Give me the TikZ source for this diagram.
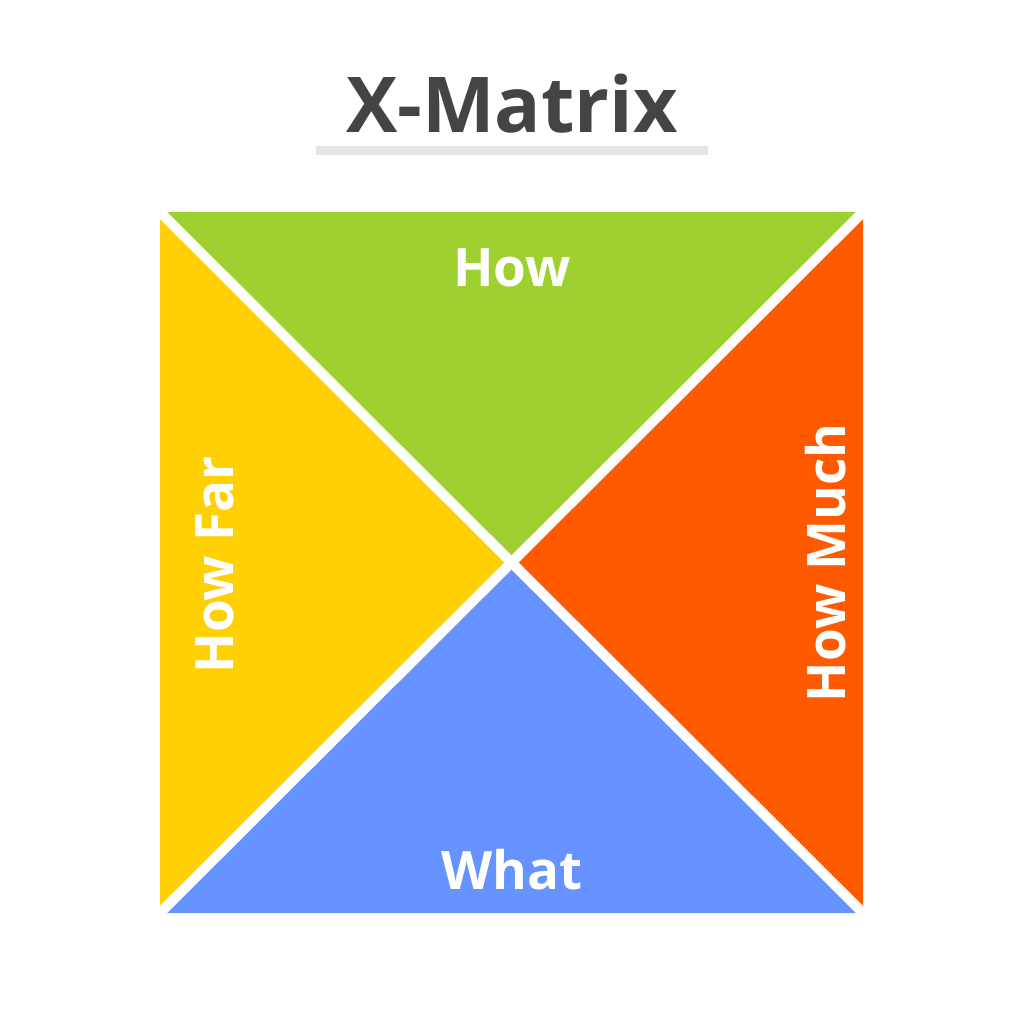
\documentclass[tikz,border=0pt]{standalone}
\usepackage{fontspec}
\setmainfont{Open Sans}
\definecolor{xgreen}{HTML}{9DD030}
\definecolor{xyellow}{HTML}{FFD105}
\definecolor{xorange}{HTML}{FF5A00}
\definecolor{xblue}{HTML}{6693FF}
\definecolor{xtitle}{HTML}{444444}
\definecolor{rulegray}{HTML}{E5E5E5}
\begin{document}
\begin{tikzpicture}[x=1pt,y=-1pt]
    \tikzset{
        lbl/.style      =   { text=white
                            , font=\fontsize{53}{55}\selectfont\bfseries
                            }
        , gap/.style    =   { white
                            , line width=10pt
                            }
    }
    \useasboundingbox[fill=white] (0,0) rectangle (1024,1024);
    \coordinate (tl) at (160,212);
    \coordinate (tr) at (863,212);
    \coordinate (br) at (863,913);
    \coordinate (bl) at (160,913);
    \coordinate (c) at (511.5,562.5);
    % four triangles
    \fill[xgreen] (tl) -- (tr) -- (c) -- cycle;
    \fill[xorange] (tr) -- (br) -- (c) -- cycle;
    \fill[xblue] (br) -- (bl) -- (c) -- cycle;
    \fill[xyellow] (bl) -- (tl) -- (c) -- cycle;
    \draw[gap] (tl) -- (br);
    \draw[gap] (tr) -- (bl);
    % title
    \node(title)[text=xtitle, font=\fontsize{77}{80}\selectfont\bfseries] at (512,104) {X-Matrix};
    \fill[fill=rulegray] (316,146) rectangle (708,155);
    % labels
    \node(how)[lbl] at (512,268) {How};
    \node(what)[lbl] at (512,870) {What};
    \node(far)[lbl, rotate=90] at (215,565) {How Far};
    \node(much)[lbl, rotate=90] at (826,563) {How Much};
\end{tikzpicture}
\end{document}
